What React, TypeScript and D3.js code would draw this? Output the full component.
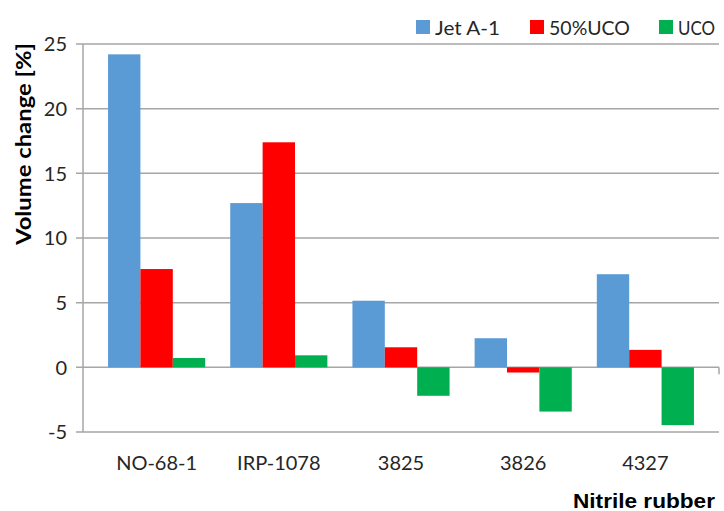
import React from "react";
import * as d3 from "d3";

const categories = ["NO-68-1", "IRP-1078", "3825", "3826", "4327"];
const seriesNames = ["Jet A-1", "50%UCO", "UCO"];
const jetA1 = [24.2, 12.7, 5.15, 2.25, 7.2];
const uco50 = [7.6, 17.4, 1.55, -0.4, 1.35];
const uco = [0.72, 0.93, -2.2, -3.42, -4.47];
const yTicks = [-5, 0, 5, 10, 15, 20, 25];
const colors = ["#5b9bd5", "#ff0000", "#00b050"];

const W = 724, H = 511;
const left = 83, right = 719, top = 44, bottom = 432;
const FONT = "Lato, 'Open Sans', sans-serif";

export default function App() {
  const series = [jetA1, uco50, uco];
  const y = d3.scaleLinear().domain([-5, 25]).range([bottom, top]);
  const x = d3.scaleBand<string>().domain(categories).range([left, right]).paddingInner(0.205).paddingOuter(0.205);
  const xs = d3.scaleBand<number>().domain([0, 1, 2]).range([0, x.bandwidth()]);
  const legendX = [416, 530, 659];
  const legendLen = [65, 81, 37];
  return (
    <svg width={W} height={H} style={{ position: "absolute", left: 0, top: 0, background: "#fff" }}>
      {yTicks.map((t) => (
        <g key={t}>
          <line x1={left - 7} x2={right} y1={y(t)} y2={y(t)} stroke="#a6a6a6" strokeWidth={1.5} />
          <text x={67} y={y(t)} dy="0.36em" textAnchor="end" fontFamily={FONT} fontSize={20} fill="#262626">{t}</text>
        </g>
      ))}
      <line x1={left} x2={left} y1={top} y2={bottom} stroke="#a6a6a6" strokeWidth={1.5} />
      <line x1={right} x2={right} y1={y(0)} y2={y(0) + 7} stroke="#a6a6a6" strokeWidth={1.5} />
      {categories.map((c, i) => (
        <g key={c}>
          {series.map((s, k) => {
            const v = s[i];
            const y0 = y(Math.max(0, v));
            const y1 = y(Math.min(0, v));
            return (
              <rect key={k} x={(x(c) as number) + (xs(k) as number)} y={y0} width={xs.bandwidth()} height={y1 - y0} fill={colors[k]} />
            );
          })}
          <text x={(x(c) as number) + x.bandwidth() / 2} y={470} textAnchor="middle" fontFamily={FONT} fontSize={20} fill="#262626">{c}</text>
        </g>
      ))}
      <text transform={`translate(31,144) rotate(-90)`} textAnchor="middle" fontFamily={FONT} fontWeight="bold" fontSize={21} textLength={202} lengthAdjust="spacingAndGlyphs" fill="#000">Volume change [%]</text>
      <text x={573} y={508} fontFamily="'Liberation Sans', Arial, sans-serif" fontWeight="bold" fontSize={21} textLength={142} lengthAdjust="spacingAndGlyphs" fill="#000">Nitrile rubber</text>
      {seriesNames.map((n, k) => (
        <g key={n}>
          <rect x={legendX[k]} y={20} width={14} height={14} fill={colors[k]} />
          <text x={legendX[k] + 19} y={35} fontFamily={FONT} fontSize={19.5} textLength={legendLen[k]} lengthAdjust="spacingAndGlyphs" fill="#262626">{n}</text>
        </g>
      ))}
    </svg>
  );
}
